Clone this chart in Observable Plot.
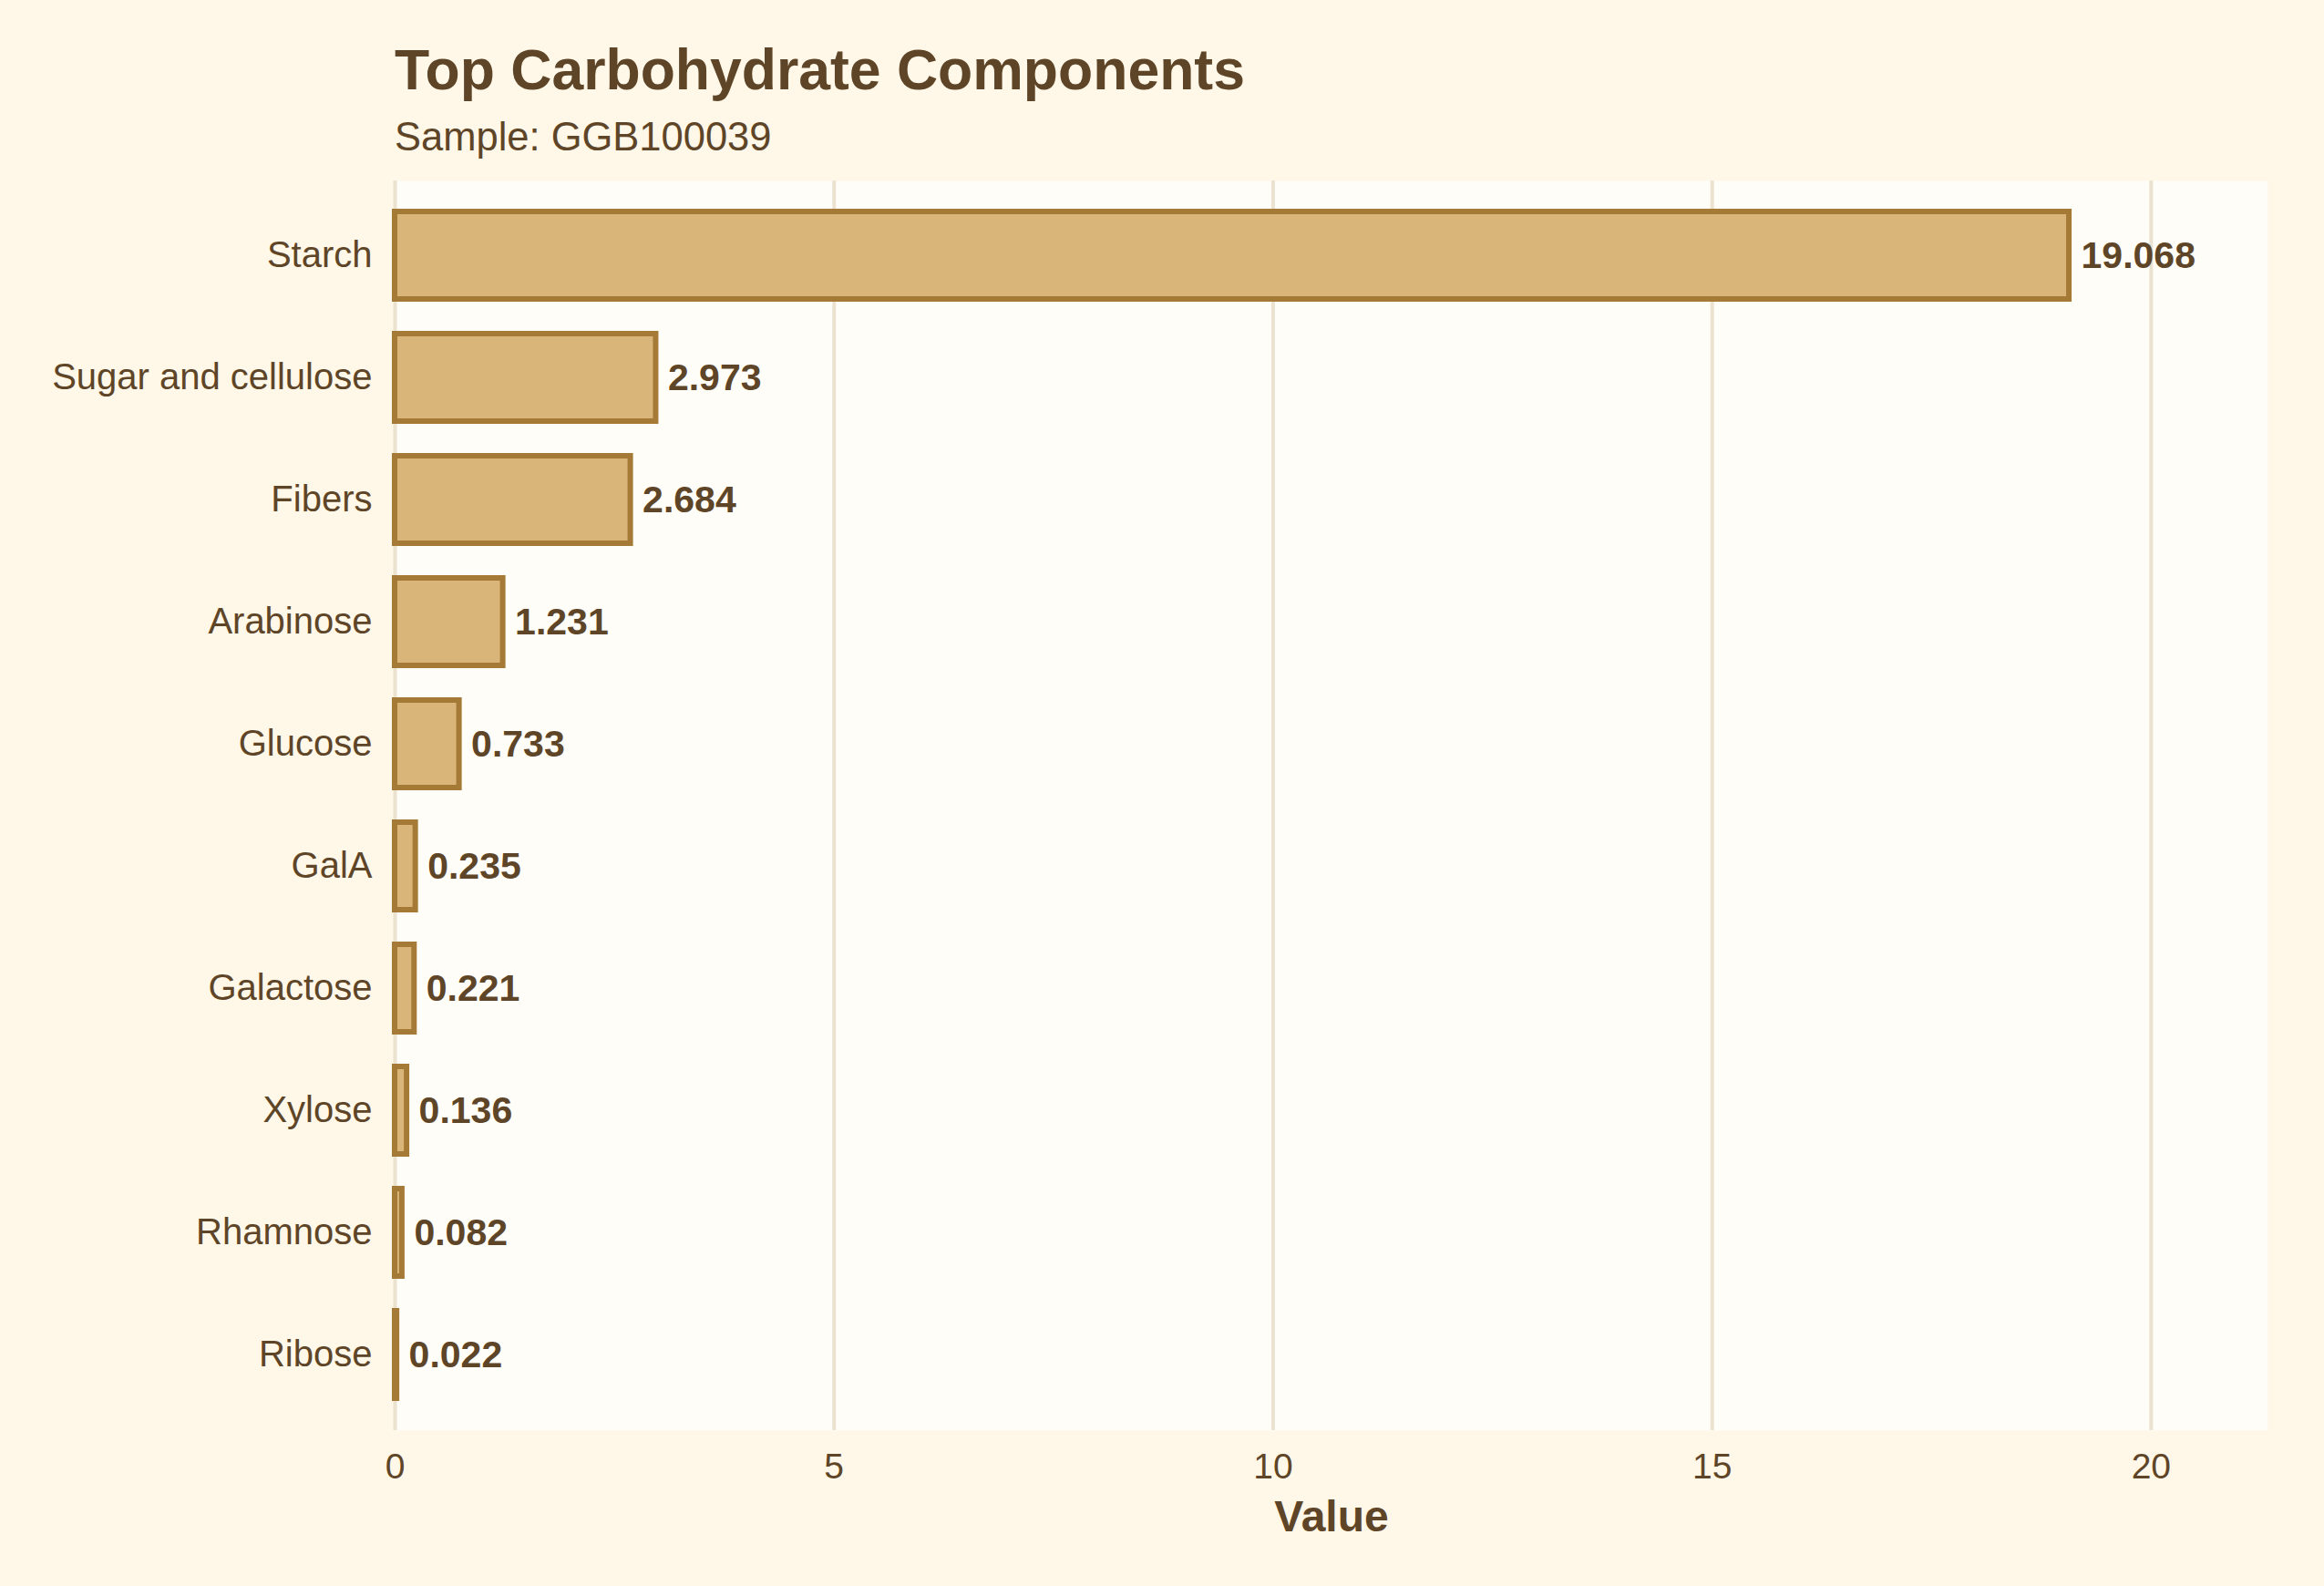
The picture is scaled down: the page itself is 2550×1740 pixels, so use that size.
<!DOCTYPE html>
<html>
<head>
<meta charset="utf-8">
<script src="https://cdn.jsdelivr.net/npm/d3@7"></script>
<script src="https://cdn.jsdelivr.net/npm/@observablehq/plot@0.6"></script>
<style>
  html, body { margin: 0; padding: 0; background: #FFF7E8; }
  #wrap { position: relative; width: 2550px; height: 1740px; background: #FFF7E8; font-family: "Liberation Sans", Arial, Helvetica, sans-serif; color: #5E4527; }
  #title { position: absolute; left: 433px; top: 45px; font-size: 62.5px; line-height: 62.5px; font-weight: bold; white-space: nowrap; }
  #subtitle { position: absolute; left: 433px; top: 129px; font-size: 43.5px; line-height: 43.5px; white-space: nowrap; color: #5E4527; }
  #chart { position: absolute; left: 0; top: 180px; }
</style>
</head>
<body>
<div id="wrap">
  <div id="title">Top Carbohydrate Components</div>
  <div id="subtitle">Sample: GGB100039</div>
  <div id="chart"></div>
</div>
<script>
const categories = ["Starch", "Sugar and cellulose", "Fibers", "Arabinose", "Glucose", "GalA", "Galactose", "Xylose", "Rhamnose", "Ribose"];
const values = [19.068, 2.973, 2.684, 1.231, 0.733, 0.235, 0.221, 0.136, 0.082, 0.022];
const xTicks = [0, 5, 10, 15, 20];
const xLabel = "Value";

const data = categories.map((c, i) => ({category: c, value: values[i]}));
const textColor = "#5E4527";

const chart = Plot.plot({
  width: 2550,
  height: 1560,
  marginTop: 18,
  marginBottom: 171,
  marginLeft: 433,
  marginRight: 62,
  style: {background: "transparent", fontFamily: "'Liberation Sans', Arial, Helvetica, sans-serif", color: textColor},
  x: {domain: [0, 21.33]},
  y: {domain: categories, paddingInner: 0.28, paddingOuter: 0.24},
  marks: [
    Plot.frame({fill: "#FFFDF7", stroke: null}),
    Plot.ruleX(xTicks, {stroke: "#EBE2CF", strokeWidth: 4}),
    Plot.barX(data, {x: "value", y: "category", fill: "#D9B57A", stroke: "#A57A36", strokeWidth: 6}),
    Plot.text(data, {x: "value", y: "category", text: d => d.value.toFixed(3), dx: 13, textAnchor: "start", fontWeight: "bold", fontSize: 41, fill: textColor}),
    Plot.axisX({ticks: xTicks, tickSize: 0, tickPadding: 25, fontSize: 39, label: null, fill: textColor}),
    Plot.axisY({tickSize: 0, tickPadding: 25, fontSize: 40, label: null, fill: textColor}),
    Plot.text([xLabel], {text: d => d, frameAnchor: "bottom", dy: 95, lineAnchor: "middle", fontWeight: "bold", fontSize: 48, fill: textColor})
  ]
});
document.getElementById("chart").appendChild(chart);
</script>
</body>
</html>
